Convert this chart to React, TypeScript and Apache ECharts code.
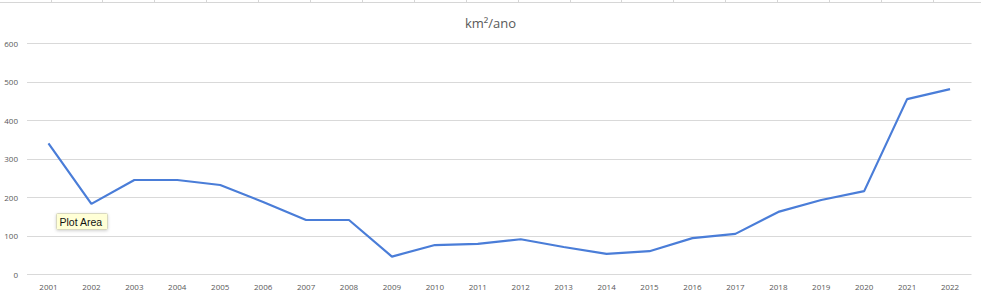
import React, { useEffect, useRef } from "react";
import * as echarts from "echarts";

const years = [
  "2001", "2002", "2003", "2004", "2005", "2006", "2007", "2008", "2009", "2010", "2011",
  "2012", "2013", "2014", "2015", "2016", "2017", "2018", "2019", "2020", "2021", "2022",
];
const areaKm2 = [
  340, 183, 245, 245, 232, 188, 141, 141, 46, 76, 79,
  91, 71, 53, 60, 94, 105, 162, 193, 216, 455, 481,
];
const titleText = "km²/ano";
const yMax = 600;
const yStep = 100;

export default function App() {
  const ref = useRef<HTMLDivElement>(null);
  useEffect(() => {
    if (!ref.current) return;
    const chart = echarts.init(ref.current, undefined, { renderer: "svg" });
    const labelColor = "#595959";
    const font = "'Open Sans', 'Liberation Sans', sans-serif";

    const sheetLines: any[] = [
      {
        type: "line",
        shape: { x1: 0, y1: 2.5, x2: 981, y2: 2.5 },
        style: { stroke: "#d6d6d6", lineWidth: 1 },
        silent: true,
      },
    ];
    for (let i = 0; i < 18; i++) {
      const x = 50.5 + i * 51.9;
      sheetLines.push({
        type: "line",
        shape: { x1: Math.round(x) + 0.5, y1: 0, x2: Math.round(x) + 0.5, y2: 2.5 },
        style: { stroke: "#d6d6d6", lineWidth: 1 },
        silent: true,
      });
    }

    chart.setOption({
      animation: false,
      backgroundColor: "#ffffff",
      title: {
        text: titleText,
        left: "center",
        top: 11,
        textStyle: {
          color: labelColor,
          fontSize: 13,
          fontWeight: "normal",
          fontFamily: font,
        },
      },
      grid: { left: 27, right: 9.5, top: 43.3, bottom: 22.7, containLabel: false },
      xAxis: {
        type: "category",
        data: years,
        boundaryGap: true,
        axisLine: { show: false },
        axisTick: { show: false },
        axisLabel: {
          color: labelColor,
          fontSize: 8,
          fontFamily: font,
          margin: 8,
          interval: 0,
        },
        splitLine: { show: false },
      },
      yAxis: {
        type: "value",
        min: 0,
        max: yMax,
        interval: yStep,
        axisLine: { show: false },
        axisTick: { show: false },
        axisLabel: {
          color: labelColor,
          fontSize: 8,
          fontFamily: font,
          margin: 9,
        },
        splitLine: { show: true, lineStyle: { color: "#d9d9d9", width: 1 } },
      },
      series: [
        {
          type: "line",
          data: areaKm2,
          showSymbol: false,
          symbol: "none",
          lineStyle: { color: "#4a7dd8", width: 2.2 },
          itemStyle: { color: "#4a7dd8" },
        },
      ],
      graphic: [
        ...sheetLines,
        {
          type: "group",
          left: 56,
          top: 213,
          children: [
            {
              type: "rect",
              shape: { x: 0, y: 0, width: 51, height: 16, r: 1 },
              style: {
                fill: "#ffffd6",
                stroke: "#d8d8c0",
                lineWidth: 1,
                shadowBlur: 3,
                shadowColor: "rgba(0,0,0,0.18)",
                shadowOffsetY: 1,
              },
            },
            {
              type: "text",
              x: 3,
              y: 2.5,
              style: {
                text: "Plot Area",
                fill: "#111111",
                fontSize: 10.5,
                fontFamily: "'Liberation Sans', 'DejaVu Sans', sans-serif",
              },
            },
          ],
        },
      ],
    });
    return () => chart.dispose();
  }, []);
  return (
    <div
      ref={ref}
      style={{ position: "fixed", left: 0, top: 0, width: 981, height: 297 }}
    />
  );
}
